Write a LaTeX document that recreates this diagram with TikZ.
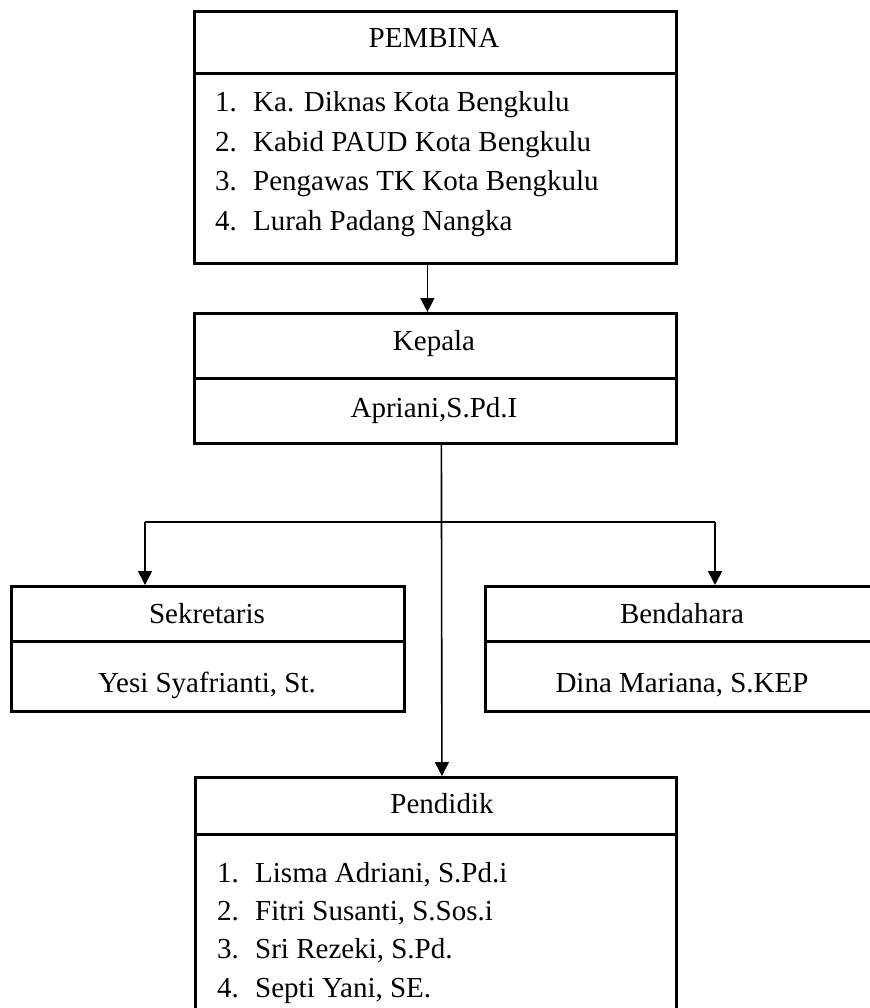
\documentclass[tikz,border=0pt]{standalone}
\usepackage{fontspec}
\setmainfont{Liberation Serif}
\usetikzlibrary{arrows.meta}

\tikzset{
  box/.style={draw, line width=2.8pt, inner sep=0pt, anchor=north west},
  conn/.style={line width=1.6pt},
  txt/.style={anchor=base, inner sep=0pt},
  item/.style={anchor=base west, inner sep=0pt}
}
\newcommand{\num}[1]{\makebox[38pt][l]{#1}}

\begin{document}
\begin{tikzpicture}[x=1pt, y=-1pt, >={Triangle[width=14pt,length=14pt]},
    font=\fontsize{29}{34}\selectfont]
    \useasboundingbox (0,0) rectangle (869,1008);

    % Boxes
    \node[box, minimum width=482pt, minimum height=62pt]  (pembinaHead) at (193,10) {};
    \node[box, minimum width=482pt, minimum height=190pt] (pembinaBody) at (193,72) {};

    \node[box, minimum width=482pt, minimum height=65pt] (kepalaHead) at (193,312) {};
    \node[box, minimum width=482pt, minimum height=65pt] (kepalaBody) at (193,377) {};

    \node[box, minimum width=393pt, minimum height=55pt] (sekretarisHead) at (10,585) {};
    \node[box, minimum width=393pt, minimum height=70pt] (sekretarisBody) at (10,640) {};

    \node[box, minimum width=396pt, minimum height=55pt] (bendaharaHead) at (484,585) {};
    \node[box, minimum width=396pt, minimum height=70pt] (bendaharaBody) at (484,640) {};

    \node[box, minimum width=481pt, minimum height=57pt]  (pendidikHead) at (194,776) {};
    \node[box, minimum width=481pt, minimum height=200pt] (pendidikBody) at (194,833) {};

    % Texts
    \node[txt] (pembinaTitle) at (434,48) {PEMBINA};
    \node[item] (pembina1) at (215,112) {\num{1.}Ka. Diknas Kota Bengkulu};
    \node[item] (pembina2) at (215,151.5) {\num{2.}Kabid PAUD Kota Bengkulu};
    \node[item] (pembina3) at (215,191) {\num{3.}Pengawas TK Kota Bengkulu};
    \node[item] (pembina4) at (215,230) {\num{4.}Lurah Padang Nangka};

    \node[txt] (kepalaTitle) at (434,350) {Kepala};
    \node[txt] (kepalaName)  at (434,417) {Apriani,S.Pd.I};

    \node[txt] (sekretarisTitle) at (207,623) {Sekretaris};
    \node[txt] (sekretarisName)  at (207,692) {Yesi Syafrianti, St.};

    \node[txt] (bendaharaTitle) at (682,623) {Bendahara};
    \node[txt] (bendaharaName)  at (682,692) {Dina Mariana, S.KEP};

    \node[txt] (pendidikTitle) at (442,813) {Pendidik};
    \node[item] (pendidik1) at (217,882) {\num{1.}Lisma Adriani, S.Pd.i};
    \node[item] (pendidik2) at (217,920) {\num{2.}Fitri Susanti, S.Sos.i};
    \node[item] (pendidik3) at (217,958) {\num{3.}Sri Rezeki, S.Pd.};
    \node[item] (pendidik4) at (217,997) {\num{4.}Septi Yani, SE.};

    % Connectors
    \draw[conn,->] ([xshift=-8pt]pembinaBody.south) -- ([xshift=-8pt]kepalaHead.north);
    \draw[conn,->] ([xshift=6pt]kepalaBody.south) -- ([xshift=6pt]pendidikHead.north);

    \coordinate (toSek) at (145,522);
    \coordinate (toBen) at (715,522);
    \draw[conn] (toSek) -- (toBen);
    \draw[conn,->] (toSek) -- (toSek |- sekretarisHead.north);
    \draw[conn,->] (toBen) -- (toBen |- bendaharaHead.north);
\end{tikzpicture}
\end{document}
